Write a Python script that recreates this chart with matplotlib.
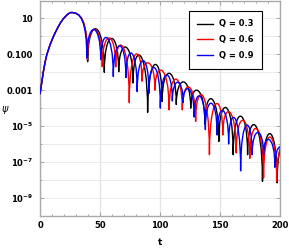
import numpy as np
import matplotlib.pyplot as plt
from matplotlib.path import Path
from matplotlib.patches import PathPatch
from matplotlib.lines import Line2D

plt.rcParams['font.family'] = 'DejaVu Sans'
plt.rcParams['mathtext.fontset'] = 'dejavusans'
plt.rcParams['mathtext.default'] = 'bf'

# early rise shared by all three curves (t, log10 psi)
rise_t = [0, 1.5, 2.8, 4.2, 5.6, 8.3, 11.1, 13.9, 16.7, 19.4, 22.2, 24.0, 25.8]
rise_e = [-3.22, -2.55, -1.97, -1.45, -1.04, -0.48, -0.02, 0.37, 0.72, 0.98, 1.18, 1.28, 1.33]

# ringdown: zeros (dips) and lobe tops, log10 psi
black_dip_t = [39.7, 53.6, 65.6, 77.5, 89.7, 101.8, 113.6, 125.6, 137.4, 149.0, 161.0, 173.0, 185.4, 197.6, 209.8]
black_dip_e = [-1.41, -2.0, -1.97, -2.6, -4.24, -3.63, -3.8, -4.0, -4.9, -5.86, -6.6, -6.6, -8.08, -8.17, -8.5]
black_top_e = [0.42, -0.11, -0.60, -1.08, -1.57, -2.06, -2.54, -3.02, -3.49, -3.97, -4.45, -4.95, -5.42, -5.94]

red_dip_t = [39.5, 51.9, 63.1, 74.4, 85.0, 95.8, 107.6, 118.6, 129.7, 141.2, 152.3, 163.5, 174.8, 186.3, 197.2, 208.4]
red_dip_e = [-1.3, -1.69, -1.7, -3.7, -2.5, -3.0, -4.1, -4.1, -4.74, -6.6, -5.5, -6.5, -6.8, -7.9, -8.1, -8.0]
red_top_e = [0.40, -0.09, -0.55, -1.0, -1.48, -1.91, -2.38, -2.83, -3.30, -3.76, -4.22, -4.68, -5.15, -5.61, -6.07]

blue_dip_t = [39.0, 50.6, 61.1, 71.6, 81.0, 90.8, 100.3, 110.3, 119.3, 128.5, 137.8, 147.6, 157.2, 167.2, 176.8, 186.3, 195.8, 205.3]
blue_dip_e = [-1.2, -1.3, -2.24, -2.3, -3.08, -3.17, -4.0, -3.6, -3.7, -4.5, -5.2, -5.5, -6.0, -7.5, -6.6, -6.6, -7.3, -7.5]
blue_top_e = [0.38, -0.08, -0.53, -0.94, -1.35, -1.75, -2.16, -2.56, -2.94, -3.33, -3.73, -4.14, -4.55, -4.96, -5.36, -5.76, -6.16]

labels = ['Q = 0.3', 'Q = 0.6', 'Q = 0.9']
colors = ['black', 'red', 'blue']

xticks = [0, 50, 100, 150, 200]
ytick_exp = [1, -1, -3, -5, -7, -9]
ytick_labels = ['10', '0.100', '0.001', '$10^{-5}$', '$10^{-7}$', '$10^{-9}$']


def series_path(dip_t, dip_e, top_e):
    pts = list(zip(rise_t, rise_e))
    codes = [Path.MOVETO] + [Path.LINETO] * (len(pts) - 1)
    t0, e0 = rise_t[-1], rise_e[-1]
    t1, e1 = dip_t[0], dip_e[0]
    pts += [(t0 + 0.55 * (t1 - t0), e0), (t1, e0 - 0.3), (t1, e1)]
    codes += [Path.CURVE4] * 3
    # each lobe: one cubic arch, vertical at both zeros, top value at the middle
    for i, p in enumerate(top_e):
        a, b = dip_t[i], dip_t[i + 1]
        c = (p - 0.125 * (dip_e[i] + dip_e[i + 1])) / 0.75
        pts += [(a, c), (b, c), (b, dip_e[i + 1])]
        codes += [Path.CURVE4] * 3
    v = np.array(pts, dtype=float)
    v[:, 1] = 10.0 ** v[:, 1]
    return Path(v, codes)


fig = plt.figure(figsize=(2.89, 2.5), dpi=100)
ax = fig.add_axes([40 / 289, 1 - 215.7 / 250, 240 / 289, 215.2 / 250])
ax.set_yscale('log')
ax.set_xlim(0, 200)
ax.set_ylim(1e-10, 1e2)

data = [(black_dip_t, black_dip_e, black_top_e),
        (red_dip_t, red_dip_e, red_top_e),
        (blue_dip_t, blue_dip_e, blue_top_e)]
for (dt, de, te), c in zip(data, colors):
    ax.add_patch(PathPatch(series_path(dt, de, te), fill=False, edgecolor=c,
                           lw=1.0, joinstyle='round', zorder=3))

ax.set_xticks(xticks)
ax.set_xticks(np.arange(0, 201, 10), minor=True)
ax.set_yticks([10.0 ** k for k in ytick_exp])
ax.set_yticklabels(ytick_labels)
ax.set_yticks([10.0 ** k for k in range(-10, 3, 2)], minor=True)
ax.set_yticklabels([], minor=True)
for lab in ax.get_xticklabels() + ax.get_yticklabels():
    lab.set_fontweight('bold')

ax.tick_params(which='both', direction='in', top=True, right=True,
               color='#999999', width=0.6, labelsize=6)
ax.tick_params(which='major', length=3)
ax.tick_params(which='minor', length=1.5)
ax.tick_params(axis='y', pad=5)
ax.tick_params(axis='x', pad=4)

ax.set_axisbelow(True)
ax.grid(which='both', axis='y', color='#e8e8e8', lw=0.6)
ax.grid(which='major', axis='x', color='#e4e4e4', lw=1.0)
for s in ax.spines.values():
    s.set_color('#aaaaaa')
    s.set_linewidth(1.0)

fig.text(4.5 / 289, 1 - 108.8 / 250, 'ψ', style='italic', fontsize=7,
         ha='center', va='center')
fig.text(160 / 289, 1 - 242.3 / 250, 't', fontweight='bold', fontsize=6.5,
         ha='center', va='center')

handles = [Line2D([], [], color=c, lw=1.0) for c in colors]
leg = ax.legend(handles, labels, loc='upper right',
                bbox_to_anchor=(262 / 289, 1 - 10.7 / 250),
                bbox_transform=fig.transFigure, borderaxespad=0,
                fancybox=False, framealpha=1, edgecolor='black',
                prop={'weight': 'bold', 'size': 6},
                handlelength=1.9, handletextpad=0.65, borderpad=1.05,
                labelspacing=0.8)
leg.get_frame().set_linewidth(0.8)

fig.savefig('out.png', dpi=100)
